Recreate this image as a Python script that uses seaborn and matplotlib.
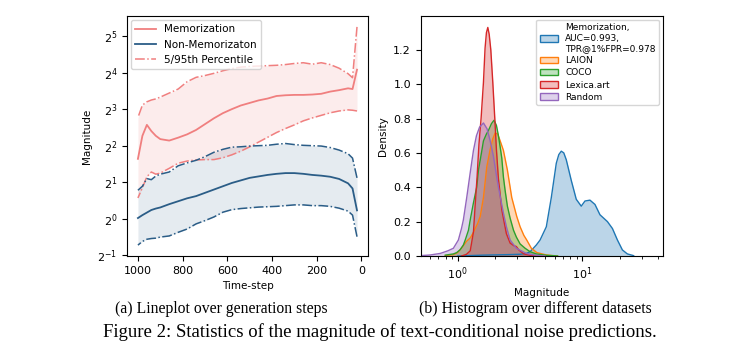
import numpy as np
import pandas as pd
import matplotlib
matplotlib.use("Agg")
import matplotlib.pyplot as plt
import seaborn as sns
from matplotlib.lines import Line2D
from matplotlib.patches import Patch

# ---- (a) magnitude over generation steps, values in log2 units ----
timesteps = [1000, 980, 960, 940, 920, 900, 860, 820, 780, 740, 700, 660, 620, 580, 540,
             500, 460, 420, 380, 340, 300, 260, 220, 180, 140, 100, 60, 40, 20]

mem_mean = [1.64, 2.27, 2.57, 2.40, 2.27, 2.18, 2.14, 2.22, 2.31, 2.43, 2.59, 2.75, 2.89, 3.00, 3.10,
            3.17, 3.24, 3.29, 3.36, 3.38, 3.39, 3.39, 3.40, 3.42, 3.48, 3.52, 3.57, 3.55, 4.08]
mem_p95 = [2.77, 3.11, 3.20, 3.25, 3.28, 3.33, 3.44, 3.55, 3.75, 3.87, 3.92, 3.98, 4.05, 4.11, 4.15,
           4.17, 4.18, 4.19, 4.20, 4.22, 4.25, 4.27, 4.23, 4.27, 4.22, 4.12, 3.97, 3.86, 5.25]
mem_p5 = [0.57, 0.85, 1.15, 1.28, 1.22, 1.25, 1.38, 1.52, 1.58, 1.61, 1.62, 1.62, 1.67, 1.75, 1.85,
          1.97, 2.10, 2.23, 2.36, 2.47, 2.57, 2.68, 2.76, 2.83, 2.90, 2.95, 2.98, 2.97, 2.95]

non_mean = [0.02, 0.10, 0.17, 0.24, 0.28, 0.31, 0.40, 0.48, 0.56, 0.62, 0.71, 0.80, 0.89, 0.98, 1.05,
            1.12, 1.16, 1.20, 1.23, 1.25, 1.25, 1.23, 1.20, 1.18, 1.15, 1.09, 0.97, 0.83, 0.23]
non_p95 = [0.78, 0.89, 1.10, 1.07, 1.17, 1.22, 1.28, 1.45, 1.53, 1.60, 1.70, 1.82, 1.90, 1.96, 1.97,
           1.99, 2.00, 2.01, 2.04, 2.06, 2.03, 2.01, 2.00, 1.99, 1.95, 1.88, 1.78, 1.66, 1.12]
non_p5 = [-0.72, -0.62, -0.56, -0.54, -0.53, -0.50, -0.47, -0.37, -0.28, -0.14, -0.05, 0.05, 0.18, 0.25, 0.28,
          0.30, 0.32, 0.33, 0.34, 0.36, 0.38, 0.38, 0.36, 0.36, 0.34, 0.29, 0.21, 0.10, -0.49]

# ---- (b) density curves, x given as log10(magnitude) ----
memo_x = [0.0, 0.2, 0.4, 0.5, 0.55, 0.58, 0.63, 0.66, 0.71, 0.75, 0.79, 0.81, 0.83, 0.85, 0.87,
          0.91, 0.95, 0.99, 1.02, 1.06, 1.10, 1.14, 1.20, 1.24, 1.28, 1.32, 1.36, 1.41]
memo_d = [0.0, 0.005, 0.008, 0.01, 0.015, 0.025, 0.064, 0.093, 0.17, 0.34, 0.54, 0.59, 0.61, 0.60, 0.56,
          0.44, 0.33, 0.29, 0.32, 0.325, 0.30, 0.24, 0.20, 0.16, 0.093, 0.035, 0.012, 0.002]

laion_x = [-0.1, -0.035, 0.0, 0.045, 0.07, 0.10, 0.12, 0.14, 0.16, 0.18, 0.206, 0.233, 0.26, 0.28, 0.30,
           0.32, 0.34, 0.366, 0.398, 0.433, 0.473, 0.50, 0.53, 0.553, 0.59, 0.634, 0.71, 0.8]
laion_d = [0.002, 0.008, 0.02, 0.06, 0.085, 0.105, 0.13, 0.16, 0.19, 0.23, 0.34, 0.52, 0.62, 0.68, 0.716,
           0.71, 0.67, 0.615, 0.50, 0.34, 0.23, 0.17, 0.12, 0.093, 0.045, 0.02, 0.006, 0.0]

coco_x = [-0.1, -0.035, -0.008, 0.02, 0.045, 0.06, 0.086, 0.10, 0.126, 0.152, 0.166, 0.19, 0.206, 0.23,
          0.246, 0.27, 0.291, 0.31, 0.326, 0.34, 0.353, 0.366, 0.38, 0.398, 0.42, 0.447, 0.47, 0.50,
          0.54, 0.58, 0.63, 0.71, 0.8]
coco_d = [0.005, 0.012, 0.02, 0.037, 0.064, 0.093, 0.15, 0.21, 0.31, 0.40, 0.50, 0.60, 0.67, 0.71,
          0.73, 0.77, 0.79, 0.76, 0.70, 0.635, 0.57, 0.46, 0.38, 0.29, 0.22, 0.15, 0.11, 0.07,
          0.045, 0.025, 0.012, 0.004, 0.0]

lexica_x = [0.03, 0.07, 0.10, 0.126, 0.14, 0.155, 0.17, 0.187, 0.206, 0.219, 0.230, 0.241, 0.252, 0.265,
            0.281, 0.297, 0.31, 0.326, 0.34, 0.353, 0.366, 0.39, 0.42, 0.45, 0.47, 0.49, 0.53, 0.58, 0.65]
lexica_d = [0.0, 0.01, 0.03, 0.14, 0.30, 0.46, 0.65, 0.80, 1.01, 1.21, 1.30, 1.33, 1.29, 1.20,
            1.01, 0.80, 0.62, 0.45, 0.36, 0.27, 0.22, 0.13, 0.075, 0.06, 0.055, 0.035, 0.012, 0.004, 0.0]

random_x = [-0.30, -0.22, -0.14, -0.08, -0.035, 0.005, 0.03, 0.045, 0.072, 0.099, 0.126, 0.15, 0.175,
            0.206, 0.235, 0.26, 0.286, 0.31, 0.326, 0.35, 0.366, 0.39, 0.42, 0.47, 0.55, 0.62, 0.7]
random_d = [0.002, 0.006, 0.015, 0.03, 0.045, 0.093, 0.16, 0.21, 0.34, 0.48, 0.615, 0.70, 0.75,
            0.774, 0.74, 0.67, 0.58, 0.47, 0.40, 0.31, 0.25, 0.17, 0.093, 0.045, 0.015, 0.005, 0.0]

dist_labels = ["Memorization,\nAUC=0.993,\nTPR@1%FPR=0.978", "LAION", "COCO", "Lexica.art", "Random"]
dist_data = [(memo_x, memo_d), (laion_x, laion_d), (coco_x, coco_d), (lexica_x, lexica_d), (random_x, random_d)]
dist_colors = sns.color_palette("tab10", 5)

red = "#f07f7f"
blue = "#2b5d87"

fig = plt.figure(figsize=(7.54, 3.59), dpi=100)
ax1 = fig.add_axes([0.1684, 0.2869, 0.3196, 0.6685])
ax2 = fig.add_axes([0.558, 0.2869, 0.321, 0.6685])

# ---- left panel ----
df = pd.DataFrame({
    "t": timesteps,
    "mem": np.power(2.0, mem_mean), "mem_lo": np.power(2.0, mem_p5), "mem_hi": np.power(2.0, mem_p95),
    "non": np.power(2.0, non_mean), "non_lo": np.power(2.0, non_p5), "non_hi": np.power(2.0, non_p95),
})
ax1.fill_between(df["t"], df["mem_lo"], df["mem_hi"], color=red, alpha=0.14, lw=0)
ax1.fill_between(df["t"], df["non_lo"], df["non_hi"], color=blue, alpha=0.12, lw=0)
sns.lineplot(data=df, x="t", y="mem", ax=ax1, color=red, lw=1.3, legend=False)
sns.lineplot(data=df, x="t", y="non", ax=ax1, color=blue, lw=1.3, legend=False)
for col, c in [("mem_lo", red), ("mem_hi", red), ("non_lo", blue), ("non_hi", blue)]:
    sns.lineplot(data=df, x="t", y=col, ax=ax1, color=c, lw=1.1, linestyle="-.", legend=False)
ax1.set_yscale("log", base=2)
ax1.set_xlim(1049, -29)
ax1.set_xticks([1000, 800, 600, 400, 200, 0])
ax1.set_xlabel("Time-step", fontsize=7.5)
ax1.set_ylabel("Magnitude", fontsize=7.5)
ax1.tick_params(labelsize=8)
handles = [Line2D([], [], color=red, lw=1.3), Line2D([], [], color=blue, lw=1.3),
           Line2D([], [], color=red, lw=1.1, linestyle="-.")]
ax1.legend(handles, ["Memorization", "Non-Memorizaton", "5/95th Percentile"], loc="upper left",
           fontsize=7.5, borderaxespad=0.4)

# ---- right panel ----
for (lx, d), c in zip(dist_data, dist_colors):
    mag = np.power(10.0, lx)
    ax2.fill_between(mag, 0, d, color=c, alpha=0.3, lw=0)
    sns.lineplot(x=mag, y=d, ax=ax2, color=c, lw=1.0, legend=False)
ax2.set_xscale("log")
ax2.set_xlim(0.505, 44)
ax2.set_ylim(bottom=0)
ax2.set_xlabel("Magnitude", fontsize=7.5)
ax2.set_ylabel("Density", fontsize=7.5)
ax2.tick_params(labelsize=8)
patches = [Patch(facecolor=(*c, 0.3), edgecolor=c, lw=1.0) for c in dist_colors]
ax2.legend(patches, dist_labels, loc="upper right", fontsize=6.5, labelspacing=0.35, borderaxespad=0.4)

# ---- captions ----
serif = ["Liberation Serif", "DejaVu Serif"]
fig.text(221 / 754, 1 - 309 / 359, "(a) Lineplot over generation steps", ha="center", va="center",
         family=serif, fontsize=11.3)
fig.text(535 / 754, 1 - 309 / 359, "(b) Histogram over different datasets", ha="center", va="center",
         family=serif, fontsize=11.3)
fig.text(380 / 754, 1 - 332 / 359, "Figure 2: Statistics of the magnitude of text-conditional noise predictions.",
         ha="center", va="center", family=serif, fontsize=13.5)

fig.savefig("out.png", dpi=100)
